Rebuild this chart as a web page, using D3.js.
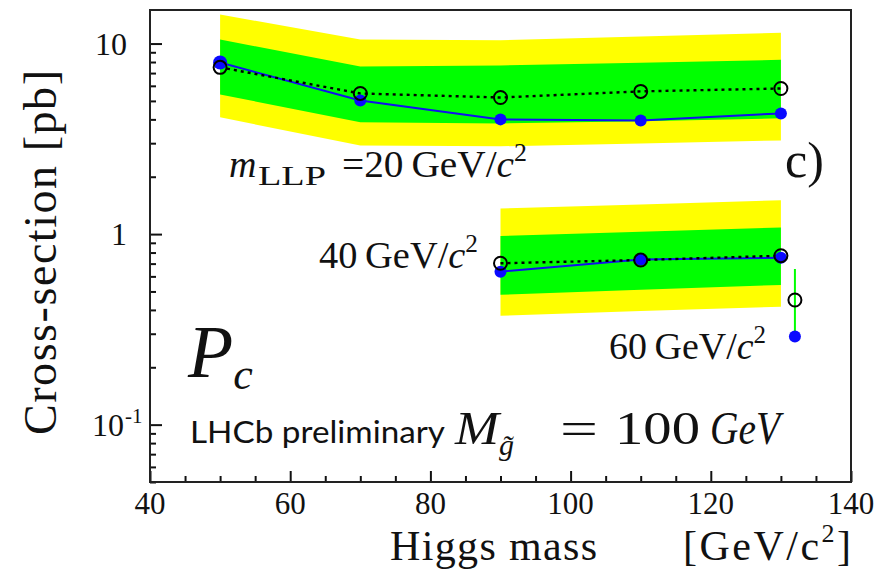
<!DOCTYPE html>
<html><head><meta charset="utf-8">
<script src="https://cdn.jsdelivr.net/npm/d3@7"></script>
<style>
body{margin:0;background:#fff;}
svg{display:block;}
.serif{font-family:"Liberation Serif","DejaVu Serif",serif;}
</style></head>
<body>
<svg id="chart" width="877" height="573"></svg>
<script>
// ---- data ----
const masses20 = [50, 70, 90, 110, 130];
const observed20 = [7.95, 5.03, 4.0, 3.95, 4.3];
const expected20 = [7.5, 5.47, 5.21, 5.61, 5.81];
const up2sigma20 = [14.2, 10.5, 10.4, 10.9, 11.4];
const up1sigma20 = [10.5, 7.58, 7.68, 7.92, 8.22];
const dn1sigma20 = [5.41, 3.86, 3.81, 3.91, 4.05];
const dn2sigma20 = [4.1, 2.92, 2.89, 2.99, 3.10];

const masses40 = [90, 110, 130];
const observed40 = [0.635, 0.735, 0.751];
const expected40 = [0.703, 0.731, 0.770];
const up2sigma40 = [1.363, 1.43, 1.506];
const up1sigma40 = [0.976, 1.03, 1.084];
const dn1sigma40 = [0.48, 0.51, 0.541];
const dn2sigma40 = [0.373, 0.395, 0.416];

const masses60 = [132];
const observed60 = [0.29];
const expected60 = [0.451];
const up1sigma60 = [0.656];
const dn1sigma60 = [0.30];

const xMajorTicks = [40, 60, 80, 100, 120, 140];
const xTickLabels = ["40", "60", "80", "100", "120", "140"];
const yMajorTicks = [0.1, 1, 10];
const yTickLabels = [["10", "-1"], ["1", ""], ["10", ""]];

// ---- scales ----
const svg = d3.select("#chart");
const x = d3.scaleLinear().domain([40, 140]).range([150, 851]);
const y = d3.scaleLog().domain([0.05, 15]).range([482, 10]);

function rows(ms, cols) {
  return ms.map((m, i) => {
    const r = {m};
    for (const k in cols) r[k] = cols[k][i];
    return r;
  });
}
const set20 = rows(masses20, {obs: observed20, exp: expected20, u2: up2sigma20, u1: up1sigma20, d1: dn1sigma20, d2: dn2sigma20});
const set40 = rows(masses40, {obs: observed40, exp: expected40, u2: up2sigma40, u1: up1sigma40, d1: dn1sigma40, d2: dn2sigma40});
const set60 = rows(masses60, {obs: observed60, exp: expected60, u1: up1sigma60, d1: dn1sigma60});

const band2 = d3.area().x(d => x(d.m)).y0(d => y(d.d2)).y1(d => y(d.u2));
const band1 = d3.area().x(d => x(d.m)).y0(d => y(d.d1)).y1(d => y(d.u1));
const lineObs = d3.line().x(d => x(d.m)).y(d => y(d.obs));
const lineExp = d3.line().x(d => x(d.m)).y(d => y(d.exp));

const plot = svg.append("g");
for (const s of [set20, set40]) {
  plot.append("path").attr("d", band2(s)).attr("fill", "#ffff00");
  plot.append("path").attr("d", band1(s)).attr("fill", "#00ff00");
}
// 60 GeV: single point, 1 sigma as vertical line
plot.selectAll(".err60").data(set60).enter().append("line")
  .attr("x1", d => x(d.m)).attr("x2", d => x(d.m))
  .attr("y1", d => y(d.u1)).attr("y2", d => y(d.d1))
  .attr("stroke", "#00ff00").attr("stroke-width", 2);

for (const s of [set20, set40]) {
  plot.append("path").attr("d", lineObs(s)).attr("fill", "none")
    .attr("stroke", "#1010ee").attr("stroke-width", 2);
  plot.append("path").attr("d", lineExp(s)).attr("fill", "none")
    .attr("stroke", "#000").attr("stroke-width", 2.4).attr("stroke-dasharray", "3,4");
}
for (const s of [set20, set40, set60]) {
  plot.selectAll(null).data(s).enter().append("circle")
    .attr("cx", d => x(d.m)).attr("cy", d => y(d.obs))
    .attr("r", (d, i) => (s === set20 && i === 0) ? 7 : 6)
    .attr("fill", "#0a0aff");
  plot.selectAll(null).data(s).enter().append("circle")
    .attr("cx", d => x(d.m)).attr("cy", d => y(d.exp)).attr("r", 6.5)
    .attr("fill", "none").attr("stroke", "#000").attr("stroke-width", 2);
}

// ---- axes (ticks inward) ----
const yMinor = [];
for (const dec of [0.01, 0.1, 1]) for (let k = 2; k <= 9; k++) {
  const v = +(k * dec).toPrecision(3);
  if (v >= 0.05 && v <= 15) yMinor.push(v);
}
const xMinor = d3.range(40, 141, 5).filter(v => v % 20 !== 0);

function styleAxis(g) {
  g.select(".domain").remove();
  g.selectAll("line").attr("stroke", "#111").attr("stroke-width", 2);
}
svg.append("g").attr("transform", "translate(150,0)")
  .call(d3.axisLeft(y).tickValues(yMajorTicks).tickSize(-12).tickFormat(""))
  .call(styleAxis);
svg.append("g").attr("transform", "translate(150,0)")
  .call(d3.axisLeft(y).tickValues(yMinor).tickSize(-6).tickFormat(""))
  .call(styleAxis);
svg.append("g").attr("transform", "translate(0,482)")
  .call(d3.axisBottom(x).tickValues(xMajorTicks).tickSize(-11).tickFormat(""))
  .call(styleAxis);
svg.append("g").attr("transform", "translate(0,482)")
  .call(d3.axisBottom(x).tickValues(xMinor).tickSize(-6).tickFormat(""))
  .call(styleAxis);

// frame
svg.append("rect").attr("x", 150).attr("y", 10).attr("width", 701).attr("height", 472)
  .attr("fill", "none").attr("stroke", "#222").attr("stroke-width", 2);

// tick labels
const yl = svg.append("g").attr("class", "serif").attr("font-size", 32).attr("fill", "#111");
yMajorTicks.forEach((v, i) => {
  yl.append("text").attr("x", yTickLabels[i][1] ? 124 : 127).attr("y", y(v) + 11)
    .attr("text-anchor", "end").text(yTickLabels[i][0]);
  if (yTickLabels[i][1]) {
    yl.append("text").attr("x", 125).attr("y", y(v) - 2).attr("font-size", 21)
      .text(yTickLabels[i][1]);
  }
});
const xl = svg.append("g").attr("class", "serif").attr("font-size", 31).attr("fill", "#111")
  .attr("text-anchor", "middle");
xMajorTicks.forEach((v, i) => {
  xl.append("text").attr("x", x(v)).attr("y", 514).text(xTickLabels[i]);
});

// axis titles
svg.append("text").attr("class", "serif").attr("font-size", 42).attr("fill", "#111")
  .attr("x", 390).attr("y", 560).attr("textLength", 207).text("Higgs mass");
const xt2 = svg.append("text").attr("class", "serif").attr("font-size", 42).attr("fill", "#111")
  .attr("x", 683).attr("y", 560).attr("textLength", 168);
xt2.append("tspan").text("[GeV/c");
xt2.append("tspan").attr("font-size", 26).attr("dy", -18).text("2");
xt2.append("tspan").attr("dy", 18).text("]");

svg.append("text").attr("class", "serif").attr("font-size", 46).attr("fill", "#111")
  .attr("transform", "translate(56,435) rotate(-90)")
  .attr("textLength", 365).attr("lengthAdjust", "spacing")
  .text("Cross-section  [pb]");

// annotations
svg.append("text").attr("class", "serif").attr("font-size", 38).attr("fill", "#111")
  .attr("font-style", "italic").attr("x", 229).attr("y", 177).text("m");
svg.append("text").attr("class", "serif").attr("font-size", 27).attr("fill", "#111")
  .attr("x", 258).attr("y", 185).attr("textLength", 68).attr("lengthAdjust", "spacingAndGlyphs")
  .text("LLP");
const a1 = svg.append("text").attr("class", "serif").attr("font-size", 38).attr("fill", "#111")
  .attr("x", 342).attr("y", 177).attr("textLength", 185).attr("lengthAdjust", "spacingAndGlyphs");
a1.append("tspan").text("=20\u2009GeV/");
a1.append("tspan").attr("font-style", "italic").text("c");
a1.append("tspan").attr("font-size", 25).attr("dy", -16).text("2");

svg.append("text").attr("class", "serif").attr("font-size", 50).attr("fill", "#111")
  .attr("x", 785).attr("y", 177).text("c)");

function gevLabel(xp, yp, num, len) {
  const t = svg.append("text").attr("class", "serif").attr("font-size", 38).attr("fill", "#111")
    .attr("x", xp).attr("y", yp).attr("textLength", len).attr("lengthAdjust", "spacingAndGlyphs");
  t.append("tspan").text(num + "\u2009GeV/");
  t.append("tspan").attr("font-style", "italic").text("c");
  t.append("tspan").attr("font-size", 25).attr("dy", -16).text("2");
}
gevLabel(319, 268, "40", 159);
gevLabel(609, 359, "60", 157);

const pc = svg.append("text").attr("class", "serif").attr("fill", "#111")
  .attr("x", 188).attr("y", 377).attr("font-style", "italic");
pc.append("tspan").attr("font-size", 74).text("P");
pc.append("tspan").attr("font-size", 44).attr("dy", 12).text("c");

svg.append("text").attr("font-family", "Lato, 'Open Sans', sans-serif").attr("font-size", 30)
  .attr("fill", "#111").attr("x", 190).attr("y", 443).attr("textLength", 255)
  .attr("lengthAdjust", "spacingAndGlyphs")
  .text("LHCb preliminary");

const mgs = svg.append("g").attr("class", "serif").attr("font-size", 46).attr("fill", "#111");
function piece(txt, xp, yp, len, italic, fs) {
  const t = mgs.append("text").attr("x", xp).attr("y", yp).text(txt)
    .attr("textLength", len).attr("lengthAdjust", "spacingAndGlyphs");
  if (italic) t.attr("font-style", "italic");
  if (fs) t.attr("font-size", fs);
}
piece("M", 455, 444, 44, true);
piece("g\u0303", 499, 455, 15, true, 30);
piece("=", 560, 444, 38, false);
piece("100", 615, 444, 85, false);
piece("GeV", 710, 444, 70, true);
</script>
</body></html>
